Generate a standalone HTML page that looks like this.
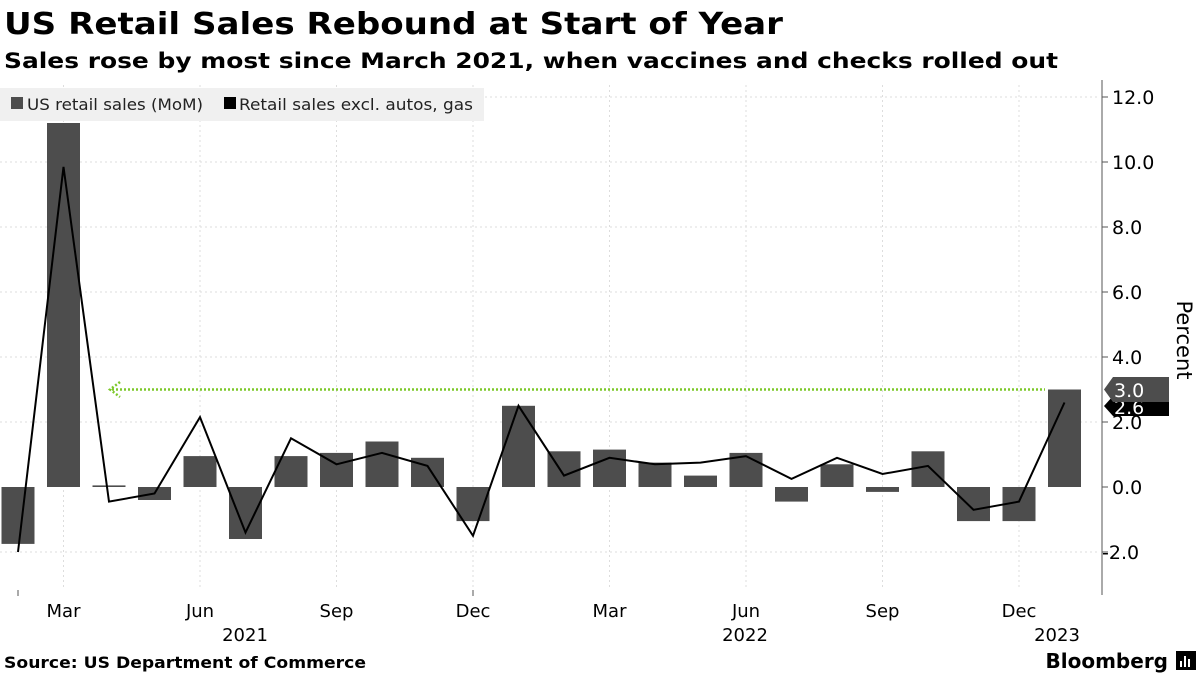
<!DOCTYPE html>
<html><head><meta charset="utf-8"><style>
body{margin:0;width:1200px;height:675px;background:#fff;overflow:hidden;font-family:"DejaVu Sans","Liberation Sans",sans-serif}
</style></head><body>
<svg width="1200" height="675" xmlns="http://www.w3.org/2000/svg" font-family="DejaVu Sans, Liberation Sans, sans-serif">
<text x="4" y="34" font-size="30" font-weight="bold" fill="#000" textLength="779" lengthAdjust="spacingAndGlyphs">US Retail Sales Rebound at Start of Year</text>
<text x="4" y="68" font-size="21" font-weight="bold" fill="#000" textLength="1054" lengthAdjust="spacingAndGlyphs">Sales rose by most since March 2021, when vaccines and checks rolled out</text>
<g stroke="#ddd" stroke-dasharray="2,3" stroke-width="1">
<line x1="0" y1="97" x2="1100" y2="97"/><line x1="0" y1="162" x2="1100" y2="162"/><line x1="0" y1="227" x2="1100" y2="227"/><line x1="0" y1="292" x2="1100" y2="292"/><line x1="0" y1="357" x2="1100" y2="357"/><line x1="0" y1="422" x2="1100" y2="422"/><line x1="0" y1="552" x2="1100" y2="552"/>
<line x1="63.5" y1="85" x2="63.5" y2="590"/><line x1="200" y1="85" x2="200" y2="590"/><line x1="336.5" y1="85" x2="336.5" y2="590"/><line x1="473" y1="85" x2="473" y2="590"/><line x1="609.5" y1="85" x2="609.5" y2="590"/><line x1="746" y1="85" x2="746" y2="590"/><line x1="882.5" y1="85" x2="882.5" y2="590"/><line x1="1019" y1="85" x2="1019" y2="590"/>
</g>
<rect x="0" y="88" width="484" height="33" fill="#f0f0f0"/>
<rect x="11" y="97" width="12" height="12" fill="#4d4d4d"/>
<text x="27" y="110" font-size="16" fill="#222" textLength="176" lengthAdjust="spacingAndGlyphs">US retail sales (MoM)</text>
<rect x="224" y="97" width="12" height="12" fill="#000"/>
<text x="239" y="110" font-size="16" fill="#222" textLength="234" lengthAdjust="spacingAndGlyphs">Retail sales excl. autos, gas</text>
<g fill="#4d4d4d">
<rect x="1.5" y="487" width="33" height="56.9"/><rect x="47" y="123" width="33" height="364"/><rect x="92.5" y="485.4" width="33" height="1.6"/><rect x="138" y="487" width="33" height="13"/><rect x="183.5" y="456.1" width="33" height="30.9"/><rect x="229" y="487" width="33" height="52"/><rect x="274.5" y="456.1" width="33" height="30.9"/><rect x="320" y="452.9" width="33" height="34.1"/><rect x="365.5" y="441.5" width="33" height="45.5"/><rect x="411" y="457.8" width="33" height="29.2"/><rect x="456.5" y="487" width="33" height="34.1"/><rect x="502" y="405.8" width="33" height="81.2"/><rect x="547.5" y="451.3" width="33" height="35.7"/><rect x="593" y="449.6" width="33" height="37.4"/><rect x="638.5" y="462.6" width="33" height="24.4"/><rect x="684" y="475.6" width="33" height="11.4"/><rect x="729.5" y="452.9" width="33" height="34.1"/><rect x="775" y="487" width="33" height="14.6"/><rect x="820.5" y="464.3" width="33" height="22.7"/><rect x="866" y="487" width="33" height="4.9"/><rect x="911.5" y="451.3" width="33" height="35.7"/><rect x="957" y="487" width="33" height="34.1"/><rect x="1002.5" y="487" width="33" height="34.1"/><rect x="1048" y="389.5" width="33" height="97.5"/>
</g>
<line x1="112" y1="389.5" x2="1045" y2="389.5" stroke="#7dc82a" stroke-width="2.5" stroke-dasharray="2,2"/>
<path d="M120 382 L110 389.5 L120 397" fill="none" stroke="#7dc82a" stroke-width="2.5" stroke-dasharray="2,2"/>
<polyline fill="none" stroke="#000" stroke-width="2" points="18,552 63.5,166.9 109,501.6 154.5,493.5 200,417.1 245.5,532.5 291,438.3 336.5,464.3 382,452.9 427.5,465.9 473,535.8 518.5,405.8 564,475.6 609.5,457.8 655,464.3 700.5,462.6 746,456.1 791.5,478.9 837,457.8 882.5,474 928,465.9 973.5,509.8 1019,501.6 1064.5,402.5"/>
<line x1="1102" y1="80" x2="1102" y2="595" stroke="#555" stroke-width="1"/>
<g stroke="#555"><line x1="1102" y1="97" x2="1108" y2="97"/><line x1="1102" y1="162" x2="1108" y2="162"/><line x1="1102" y1="227" x2="1108" y2="227"/><line x1="1102" y1="292" x2="1108" y2="292"/><line x1="1102" y1="357" x2="1108" y2="357"/><line x1="1102" y1="422" x2="1108" y2="422"/><line x1="1102" y1="487" x2="1108" y2="487"/><line x1="1102" y1="552" x2="1108" y2="552"/></g>
<g font-size="19" fill="#000">
<text x="1112" y="104">12.0</text><text x="1112" y="169">10.0</text><text x="1112" y="234">8.0</text><text x="1112" y="299">6.0</text><text x="1112" y="364">4.0</text><text x="1112" y="429">2.0</text><text x="1112" y="494">0.0</text><text x="1102" y="559">-2.0</text>
</g>
<path d="M1113 396 L1169 396 L1169 416 L1113 416 L1104 406 Z" fill="#000"/>
<text x="1114" y="414" font-size="19" fill="#fff">2.6</text>
<path d="M1113 377 L1169 377 L1169 402 L1113 402 L1104 389.5 Z" fill="#4d4d4d"/>
<text x="1114" y="397" font-size="19" fill="#fff">3.0</text>
<text transform="translate(1177,340) rotate(90)" font-size="21" text-anchor="middle" fill="#000">Percent</text>
<g font-size="18" fill="#000" text-anchor="middle">
<text x="63.5" y="617">Mar</text><text x="200" y="617">Jun</text><text x="336.5" y="617">Sep</text><text x="473" y="617">Dec</text><text x="609.5" y="617">Mar</text><text x="746" y="617">Jun</text><text x="882.5" y="617">Sep</text><text x="1019" y="617">Dec</text>
<text x="245" y="641">2021</text><text x="745" y="641">2022</text><text x="1057" y="641">2023</text>
</g>
<g stroke="#555"><line x1="18" y1="590" x2="18" y2="596"/><line x1="473" y1="590" x2="473" y2="596"/></g>
<text x="4" y="668" font-size="16" font-weight="bold" fill="#000" textLength="362" lengthAdjust="spacingAndGlyphs">Source: US Department of Commerce</text>
<text x="1168" y="668" font-size="20" font-weight="bold" fill="#000" text-anchor="end">Bloomberg</text>
<rect x="1176" y="651" width="20" height="19" fill="#000"/>
<g fill="#fff"><rect x="1180" y="661" width="2" height="6"/><rect x="1184" y="656" width="2" height="11"/><rect x="1188" y="659" width="2" height="8"/></g>
</svg>
</body></html>
